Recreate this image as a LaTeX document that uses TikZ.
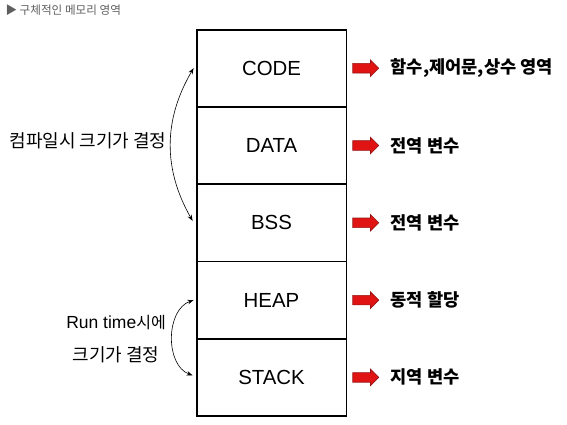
\documentclass[tikz,border=0pt]{standalone}
\usepackage{fontspec}
\setmainfont{Liberation Sans}
\newfontfamily\kr{Noto Sans CJK KR}
\usetikzlibrary{arrows.meta, shapes.arrows, positioning}
\definecolor{headgray}{RGB}{95,95,95}
\definecolor{arrowred}{RGB}{225,20,20}
\definecolor{arrowedge}{RGB}{150,20,20}

\tikzset{
  seg/.style={draw, line width=0.9pt, minimum width=149pt, minimum height=76.4pt,
    inner sep=0pt, font=\fontsize{20.4}{20.4}\selectfont},
  redarrow/.style={single arrow, draw=arrowedge, fill=arrowred, line width=0.6pt,
    inner sep=4.5pt, single arrow head extend=3.5pt, minimum height=26pt},
  desc/.style={font=\kr\bfseries\fontsize{17.6}{17.6}\selectfont},
  side/.style={font=\kr\fontsize{18}{18}\selectfont},
  bow/.style={{Stealth[length=6pt,width=4.5pt]}-{Stealth[length=6pt,width=4.5pt]}, line width=0.6pt},
}

\begin{document}
\begin{tikzpicture}[x=1pt,y=-1pt]
\useasboundingbox (0,0) rectangle (567,424);

% title
\node[anchor=west, text=headgray, font=\kr\fontsize{11.6}{11.6}\selectfont] (title) at (2,10) {▶ 구체적인 메모리 영역};

% memory segments
\node[seg] (code) at (271.5,68.2) {CODE};
\node[seg, below=0pt of code] (data) {DATA};
\node[seg, below=0pt of data] (bss) {BSS};
\node[seg, below=0pt of bss] (heap) {HEAP};
\node[seg, below=0pt of heap] (stack) {STACK};
\draw[line width=1.8pt] (code.north west) rectangle (stack.south east);

% red arrows and what goes where
\node[redarrow, right=6pt of code] (acode) {};
\node[redarrow, right=6pt of data] (adata) {};
\node[redarrow, right=6pt of bss] (abss) {};
\node[redarrow, right=6pt of heap] (aheap) {};
\node[redarrow, right=6pt of stack] (astack) {};
\node[desc, right=8pt of acode] (tcode) {함수,제어문,상수 영역};
\node[desc, right=8pt of adata] (tdata) {전역 변수};
\node[desc, right=8pt of abss] (tbss) {전역 변수};
\node[desc, right=8pt of aheap] (theap) {동적 할당};
\node[desc, right=8pt of astack] (tstack) {지역 변수};

% size decided when
\draw[bow] ([xshift=-3pt]code.west) to[bend right=30] ([xshift=-4pt,yshift=2pt]bss.west);
\draw[bow] ([xshift=-3pt]heap.west) to[bend right=70] ([xshift=-4pt,yshift=2pt]stack.west);
\node[side] (compile) at (88,141) {컴파일시 크기가 결정};
\node[side] (run1) at (116,323) {{\rmfamily\fontsize{17.5}{17.5}\selectfont Run time}{\fontsize{16}{16}\selectfont 시에}};
\node[side] (run2) at (116,355) {크기가 결정};
\end{tikzpicture}
\end{document}
